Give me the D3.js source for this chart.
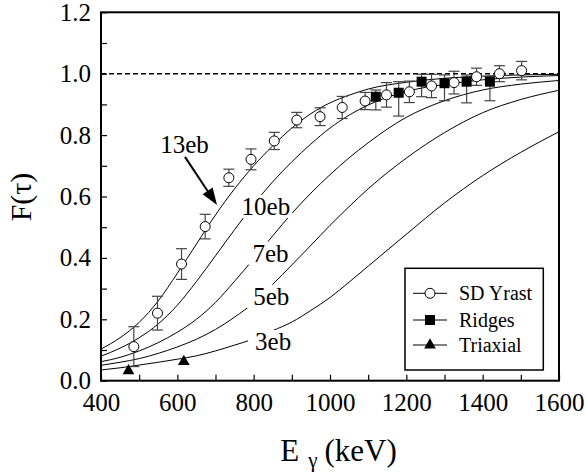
<!DOCTYPE html>
<html><head><meta charset="utf-8">
<script src="https://cdn.jsdelivr.net/npm/d3@7"></script>
<style>body{margin:0;background:#fff;}</style>
</head>
<body><svg id="c" width="586" height="475"></svg>
<script>
// ---------- data ----------
const curveE = [400,450,500,550,600,650,700,750,800,850,900,950,1000,1050,1100,1200,1300,1400,1500,1600];
const f13 = [0.103,0.140,0.190,0.260,0.350,0.445,0.540,0.625,0.700,0.765,0.823,0.870,0.905,0.930,0.950,0.972,0.985,0.992,0.996,0.998];
const f10 = [0.080,0.106,0.140,0.185,0.246,0.323,0.407,0.492,0.574,0.648,0.713,0.771,0.823,0.865,0.898,0.942,0.965,0.980,0.989,0.994];
const f7  = [0.062,0.076,0.097,0.124,0.158,0.200,0.255,0.324,0.397,0.472,0.545,0.611,0.671,0.726,0.775,0.858,0.912,0.947,0.966,0.978];
const f5  = [0.050,0.060,0.072,0.089,0.110,0.135,0.167,0.207,0.254,0.314,0.377,0.441,0.506,0.567,0.625,0.725,0.808,0.873,0.916,0.946];
const f3  = [0.035,0.042,0.051,0.060,0.070,0.081,0.097,0.116,0.136,0.163,0.191,0.229,0.271,0.321,0.373,0.477,0.579,0.668,0.744,0.811];
const curveNames = ["13eb","10eb","7eb","5eb","3eb"];

const yrastE = [486,548,611,673,735,793,854,913,974,1032,1092,1148,1208,1266,1325,1384,1444,1502];
const yrastF = [0.111,0.220,0.380,0.502,0.661,0.721,0.781,0.849,0.860,0.890,0.911,0.931,0.941,0.960,0.971,0.990,1.000,1.010];
const yrastErr = [0.065,0.055,0.050,0.040,0.028,0.034,0.028,0.025,0.029,0.036,0.028,0.040,0.035,0.038,0.037,0.028,0.026,0.030];

const ridgeE = [1120,1180,1240,1300,1358,1419];
const ridgeF = [0.925,0.938,0.974,0.969,0.974,0.974];
const ridgeErrHi = [0.022,0.036,0.024,0.027,0.022,0.016];
const ridgeErrLo = [0.043,0.076,0.049,0.057,0.069,0.062];

const triE = [472,617];
const triF = [0.032,0.062];

const xTicks = [400,500,600,700,800,900,1000,1100,1200,1300,1400,1500,1600];
const yTicks = [0,0.1,0.2,0.3,0.4,0.5,0.6,0.7,0.8,0.9,1.0,1.1,1.2];
const legendLabels = ["SD Yrast","Ridges","Triaxial"];

// ---------- layout ----------
const FONT = "Liberation Serif";
const L=101, R=559, T=12.3, B=380.7;
const svg = d3.select("#c").style("font-family",FONT);
const x = d3.scaleLinear().domain([400,1600]).range([L,R]);
const y = d3.scaleLinear().domain([0,1.2]).range([B,T]);

// axes
const xAxis = d3.axisBottom(x).tickValues(xTicks).tickSizeInner(-6).tickSizeOuter(0).tickPadding(12.5)
  .tickFormat(d => d % 200 === 0 ? d : "");
const gx = svg.append("g").attr("transform",`translate(0,${B})`).call(xAxis);
const yAxis = d3.axisLeft(y).tickValues(yTicks).tickSizeInner(-6).tickSizeOuter(0).tickPadding(10)
  .tickFormat(d => (Math.round(d*10) % 2 === 0) ? d3.format(".1f")(d) : "");
const gy = svg.append("g").attr("transform",`translate(${L},0)`).call(yAxis);
[gx,gy].forEach(g=>{
  g.attr("font-family",null).style("font-family",FONT).attr("font-size",25);
  g.select(".domain").remove();
  g.selectAll("line").attr("stroke","#000").attr("stroke-width",1.2);
  g.selectAll("text").style("font-family",FONT).attr("font-size",25).attr("fill","#000");
});

// dashed line at 1.0
svg.append("line").attr("x1",x(400)).attr("x2",x(1600)).attr("y1",y(1)).attr("y2",y(1))
  .attr("stroke","#000").attr("stroke-width",1.4).attr("stroke-dasharray","5,3");

// curves
const line = d3.line().x(d=>x(d[0])).y(d=>y(d[1])).curve(d3.curveMonotoneX);
const curves = [f13,f10,f7,f5,f3];
const gc = svg.append("g");
curves.forEach(arr=>{
  gc.append("path").datum(curveE.map((e,i)=>[e,arr[i]])).attr("d",line)
    .attr("fill","none").attr("stroke","#000").attr("stroke-width",1);
});

// curve labels with white gaps
const labelPos = [[619,0.742],[832,0.540],[844,0.388],[846,0.247],[851,0.100]];
const gl = svg.append("g");
curveNames.forEach((n,i)=>{
  const g = gl.append("g");
  const t = g.append("text").attr("x",x(labelPos[i][0])).attr("y",y(labelPos[i][1]))
    .attr("text-anchor","middle").style("font-family",FONT).attr("font-size",25).attr("fill","#000").text(n);
  if(i>0){
    const bb = t.node().getBBox();
    g.insert("rect","text").attr("x",bb.x-7).attr("y",bb.y+2).attr("width",bb.width+9).attr("height",bb.height-4)
      .attr("fill","#fff");
  }
});

// arrow for 13eb
(function(){
  const x1=x(620), y1=y(0.729), x2=x(704), y2=y(0.572);
  const dx=x2-x1, dy=y2-y1, len=Math.hypot(dx,dy), ux=dx/len, uy=dy/len;
  const hl=17, hw=6;
  const bx=x2-ux*hl, by=y2-uy*hl;
  svg.append("line").attr("x1",x1).attr("y1",y1).attr("x2",bx).attr("y2",by).attr("stroke","#000").attr("stroke-width",2);
  svg.append("path").attr("d",`M${x2},${y2}L${bx-uy*hw},${by+ux*hw}L${bx+uy*hw},${by-ux*hw}Z`).attr("fill","#000");
})();

// error bars
const errCol="#444", cap=5.5;
function errBar(g,e,lo,hi){
  g.append("line").attr("x1",x(e)).attr("x2",x(e)).attr("y1",y(lo)).attr("y2",y(hi)).attr("stroke",errCol).attr("stroke-width",1.2);
  [lo,hi].forEach(v=>g.append("line").attr("x1",x(e)-cap).attr("x2",x(e)+cap).attr("y1",y(v)).attr("y2",y(v)).attr("stroke",errCol).attr("stroke-width",1.2));
}
const ge = svg.append("g");
yrastE.forEach((e,i)=>errBar(ge,e,yrastF[i]-yrastErr[i],yrastF[i]+yrastErr[i]));
ridgeE.forEach((e,i)=>errBar(ge,e,ridgeF[i]-ridgeErrLo[i],ridgeF[i]+ridgeErrHi[i]));

// markers
const gm = svg.append("g");
gm.selectAll("circle").data(yrastE.map((e,i)=>[e,yrastF[i]])).join("circle")
  .attr("cx",d=>x(d[0])).attr("cy",d=>y(d[1])).attr("r",5).attr("fill","#fff").attr("stroke","#000").attr("stroke-width",1);
gm.selectAll("rect.sq").data(ridgeE.map((e,i)=>[e,ridgeF[i]])).join("rect").attr("class","sq")
  .attr("x",d=>x(d[0])-5).attr("y",d=>y(d[1])-5).attr("width",10).attr("height",10).attr("fill","#000");
const tri = d3.symbol().type(d3.symbolTriangle).size(60);
gm.selectAll("path.tri").data(triE.map((e,i)=>[e,triF[i]])).join("path").attr("class","tri")
  .attr("transform",d=>`translate(${x(d[0])},${y(d[1])})`).attr("d",tri).attr("fill","#000");

// frame
svg.append("rect").attr("x",L).attr("y",T).attr("width",R-L).attr("height",B-T)
  .attr("fill","none").attr("stroke","#000").attr("stroke-width",2);

// legend
const lg = svg.append("g");
lg.append("rect").attr("x",405).attr("y",268.3).attr("width",138.3).attr("height",101.7)
  .attr("fill","#fff").attr("stroke","#000").attr("stroke-width",1.5);
const rowsY=[293.3,320,345];
legendLabels.forEach((lab,i)=>{
  const yy=rowsY[i];
  lg.append("line").attr("x1",413).attr("x2",447).attr("y1",yy).attr("y2",yy).attr("stroke","#000").attr("stroke-width",1);
  if(i===0) lg.append("circle").attr("cx",430).attr("cy",yy).attr("r",5).attr("fill","#fff").attr("stroke","#000");
  if(i===1) lg.append("rect").attr("x",425).attr("y",yy-5).attr("width",10).attr("height",10).attr("fill","#000");
  if(i===2) lg.append("path").attr("transform",`translate(430,${yy})`).attr("d",tri).attr("fill","#000");
  lg.append("text").attr("x",459).attr("y",yy+7).style("font-family",FONT).attr("font-size",20).attr("fill","#000").text(lab);
});

// axis titles
const xt = svg.append("text").attr("x",338.5).attr("y",461).attr("text-anchor","middle")
  .style("font-family",FONT).attr("font-size",31).attr("fill","#000");
xt.append("tspan").text("E");
xt.append("tspan").attr("font-size",21).attr("dx",9).attr("dy",6).text("γ");
xt.append("tspan").attr("dy",-6).attr("dx",7).text("(keV)");
svg.append("text").attr("transform","translate(31,197) rotate(-90)").attr("text-anchor","middle")
  .style("font-family",FONT).attr("font-size",30).attr("fill","#000").text("F(τ)");
</script></body></html>
